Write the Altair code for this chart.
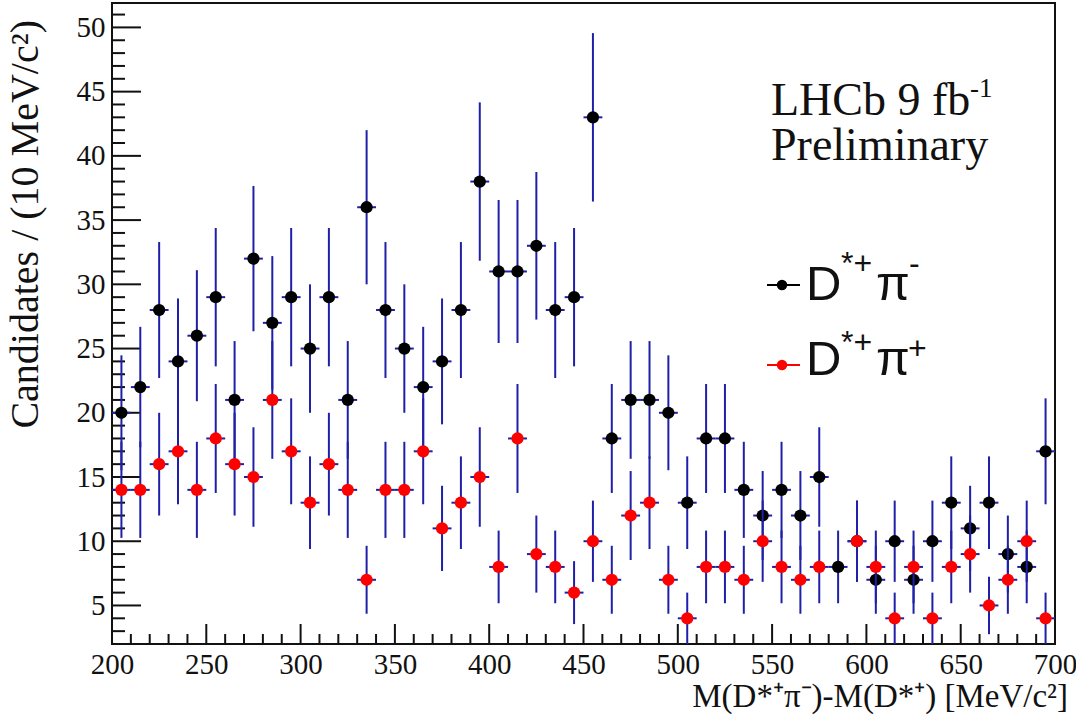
import altair as alt
import numpy as np
import pandas as pd

# ---------------- data ----------------
mass = [205, 215, 225, 235, 245, 255, 265, 275, 285, 295,
        305, 315, 325, 335, 345, 355, 365, 375, 385, 395,
        405, 415, 425, 435, 445, 455, 465, 475, 485, 495,
        505, 515, 525, 535, 545, 555, 565, 575, 585, 595,
        605, 615, 625, 635, 645, 655, 665, 675, 685, 695]

n_minus = [20, 22, 28, 24, 26, 29, 21, 32, 27, 29,
           25, 29, 21, 36, 28, 25, 22, 24, 28, 38,
           31, 31, 33, 28, 29, 43, 18, 21, 21, 20,
           13, 18, 18, 14, 12, 14, 12, 15, 8, 10,
           7, 10, 7, 10, 13, 11, 13, 9, 8, 17]

n_plus = [14, 14, 16, 17, 14, 18, 16, 15, 21, 17,
          13, 16, 14, 7, 14, 14, 17, 11, 13, 15,
          8, 18, 9, 8, 6, 10, 7, 12, 13, 7,
          4, 8, 8, 7, 10, 8, 7, 8, 1, 10,
          8, 4, 8, 4, 8, 9, 5, 7, 10, 4]

x_major = [200, 250, 300, 350, 400, 450, 500, 550, 600, 650, 700]
x_minor = [v for v in range(200, 701, 10) if v % 50 != 0]
y_major = [5, 10, 15, 20, 25, 30, 35, 40, 45, 50]
y_minor = [v for v in range(2, 52) if v % 5 != 0]

HALF_BIN = 5

# ---------------- geometry ----------------
PAD_L, PAD_T = 112, 3
W, H = 943, 641
BLUE = "#1f1fa8"
SERIF = "Liberation Serif, Times New Roman, serif"
SANS = "Liberation Sans, Arial, sans-serif"


def series_df(counts):
    d = pd.DataFrame({"m": mass, "n": counts})
    err = np.sqrt(d["n"])
    d["lo"] = d["n"] - err
    d["hi"] = d["n"] + err
    d["xlo"] = d["m"] - HALF_BIN
    d["xhi"] = d["m"] + HALF_BIN
    return d


df_minus = series_df(n_minus)
df_plus = series_df(n_plus)

xs = alt.Scale(domain=[200, 700], nice=False, zero=False)
ys = alt.Scale(domain=[2, 51.9], nice=False, zero=False)

xaxis = alt.Axis(values=x_major, ticks=False, domain=False, grid=False, title=None,
                 labelFont=SERIF, labelFontSize=29, labelColor="#111",
                 labelPadding=6, labelFlush=False, format="d")
yaxis = alt.Axis(values=y_major, ticks=False, domain=False, grid=False, title=None,
                 labelFont=SERIF, labelFontSize=29, labelColor="#111",
                 labelPadding=7, labelFlush=False, format="d")

# ---------------- ticks (inside the frame) ----------------
ymaj = alt.Chart(pd.DataFrame({"v": y_major})).mark_rule(color="#111", strokeWidth=2).encode(
    y=alt.Y("v:Q", scale=ys, axis=yaxis), x=alt.value(0), x2=alt.value(29))
ymin = alt.Chart(pd.DataFrame({"v": y_minor})).mark_rule(color="#111", strokeWidth=2).encode(
    y=alt.Y("v:Q", scale=ys, axis=yaxis), x=alt.value(0), x2=alt.value(13))
xmaj = alt.Chart(pd.DataFrame({"v": x_major})).mark_rule(color="#111", strokeWidth=2).encode(
    x=alt.X("v:Q", scale=xs, axis=xaxis), y=alt.value(H), y2=alt.value(H - 20))
xmin = alt.Chart(pd.DataFrame({"v": x_minor})).mark_rule(color="#111", strokeWidth=2).encode(
    x=alt.X("v:Q", scale=xs, axis=xaxis), y=alt.value(H), y2=alt.value(H - 10))


def series_layers(d, color):
    base = alt.Chart(d)
    vbar = base.mark_rule(color=BLUE, strokeWidth=2, clip=True).encode(
        x=alt.X("m:Q", scale=xs, axis=xaxis),
        y=alt.Y("lo:Q", scale=ys, axis=yaxis), y2="hi:Q")
    hbar = base.mark_rule(color=BLUE, strokeWidth=2, clip=True).encode(
        x=alt.X("xlo:Q", scale=xs, axis=xaxis), x2="xhi:Q",
        y=alt.Y("n:Q", scale=ys, axis=yaxis))
    pts = base.mark_circle(color=color, size=150, opacity=1, clip=True).encode(
        x=alt.X("m:Q", scale=xs, axis=xaxis),
        y=alt.Y("n:Q", scale=ys, axis=yaxis))
    return [vbar, hbar, pts]


one = pd.DataFrame({"a": [0]})


def txt(s, px, py, size, font, align="left", angle=0, color="#111", style="normal"):
    return alt.Chart(one).mark_text(
        text=s, font=font, fontSize=size, align=align, baseline="alphabetic",
        angle=angle, color=color, fontStyle=style
    ).encode(x=alt.value(px - PAD_L), y=alt.value(py - PAD_T))


def legend_marker(py, color):
    line = alt.Chart(one).mark_rule(color=color, strokeWidth=2).encode(
        x=alt.value(767 - PAD_L), x2=alt.value(800 - PAD_L), y=alt.value(py - PAD_T))
    dot = alt.Chart(one).mark_circle(color=color, size=110, opacity=1).encode(
        x=alt.value(782 - PAD_L), y=alt.value(py - PAD_T))
    return [line, dot]


annotations = [
    # axis titles
    txt("Candidates / (10 MeV/c²)", 38, 20, 40, SERIF, align="right", angle=270),
    txt("M(D*⁺π⁻)-M(D*⁺) [MeV/c²]", 1068, 707, 33, SERIF, align="right"),
    # LHCb label
    txt("LHCb 9 fb", 771, 115, 46, SERIF),
    txt("-1", 970, 97, 27, SERIF),
    txt("Preliminary", 771, 160, 46, SERIF),
    # legend entry 1
    txt("D", 806, 300, 49, SANS),
    txt("*+", 841, 274, 32, SANS),
    txt("π", 876, 300, 49, SANS),
    txt("-", 909, 274, 32, SANS),
    # legend entry 2
    txt("D", 806, 375, 49, SANS),
    txt("*+", 841, 353, 32, SANS),
    txt("π", 876, 375, 49, SANS),
    txt("+", 908, 359, 32, SANS),
]

layers = ([ymin, ymaj, xmin, xmaj]
          + series_layers(df_minus, "#000000")
          + series_layers(df_plus, "#ff0000")
          + legend_marker(285, "#000000")
          + legend_marker(365, "#ff0000")
          + annotations)

chart = alt.layer(*layers).properties(
    width=W, height=H,
    autosize=alt.AutoSizeParams(type="none"),
    padding={"left": PAD_L, "top": PAD_T, "right": 1076 - PAD_L - W, "bottom": 721 - PAD_T - H},
    background="white",
).configure_view(stroke="#111", strokeWidth=2)

chart.save("out.html", embed_options={"renderer": "svg", "actions": False})
